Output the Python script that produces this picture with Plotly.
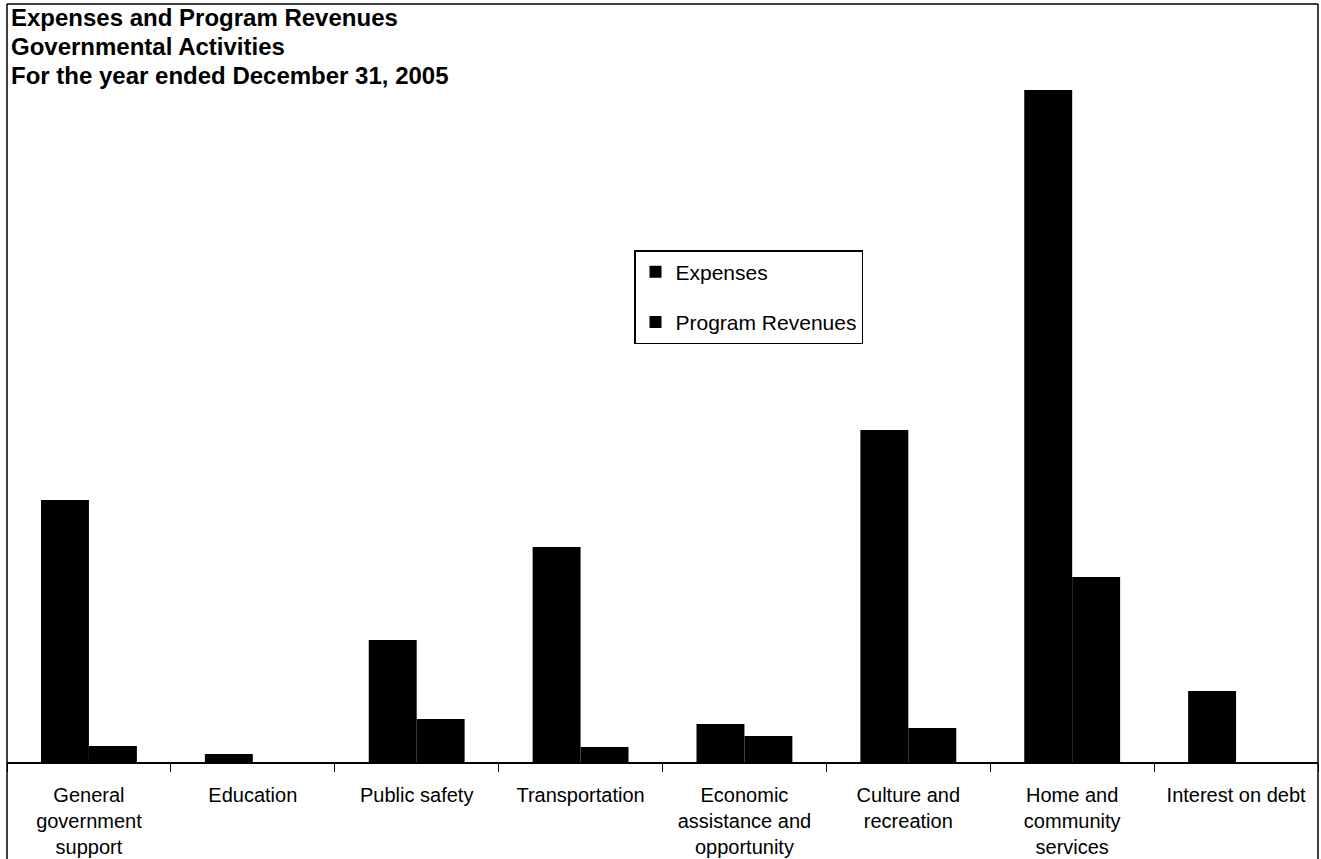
import plotly.graph_objects as go

# Governmental activities, year ended December 31, 2005
categories = [
    "General<br>government<br>support",
    "Education",
    "Public safety",
    "Transportation",
    "Economic<br>assistance and<br>opportunity",
    "Culture and<br>recreation",
    "Home and<br>community<br>services",
    "Interest on debt",
]
expenses = [26.2, 0.8, 12.2, 21.5, 3.8, 33.2, 67.2, 7.1]
program_revenues = [1.6, 0.0, 4.3, 1.5, 2.6, 3.4, 18.5, 0.0]

title_lines = [
    "Expenses and Program Revenues",
    "Governmental Activities",
    "For the year ended December 31, 2005",
]

FONT = "Liberation Sans, Arial, sans-serif"
W, H = 1321, 859
M_L, M_R, M_T, M_B = 7, 3, 4, 97
plot_h = H - M_T - M_B
plot_w = W - M_L - M_R

fig = go.Figure()
fig.add_trace(go.Bar(
    name="Expenses", x=categories, y=expenses,
    marker=dict(color="#000000", line=dict(width=0)),
    legendgroup="a",
))
fig.add_trace(go.Bar(
    name="Program Revenues", x=categories, y=program_revenues,
    marker=dict(color="#000000", line=dict(width=0)),
    legendgroup="b",
))

# chart frame (top, left and right edges run to the page bottom)
y_bottom = -M_B / plot_h
frame = dict(type="line", xref="paper", yref="paper",
             line=dict(color="#000000", width=1.5), layer="above")
fig.add_shape(x0=0, x1=1, y0=1, y1=1, **frame)
fig.add_shape(x0=0, x1=0, y0=1, y1=y_bottom, **frame)
fig.add_shape(x0=1, x1=1, y0=1, y1=y_bottom, **frame)

for i, line in enumerate(title_lines):
    fig.add_annotation(
        text=f"<b>{line}</b>", xref="paper", yref="paper",
        x=2 / plot_w, y=1 - (-2 + i * 29) / plot_h,
        xanchor="left", yanchor="top", showarrow=False,
        font=dict(family=FONT, size=24, color="#000000"),
    )

fig.update_layout(
    width=W, height=H,
    margin=dict(l=M_L, r=M_R, t=M_T, b=M_B, pad=0, autoexpand=False),
    paper_bgcolor="#ffffff", plot_bgcolor="#ffffff",
    barmode="group", bargap=0.415, bargroupgap=0,
    font=dict(family=FONT, size=20, color="#000000"),
    showlegend=True,
    legend=dict(
        x=(634 - M_L) / plot_w, y=(H - M_B - 250) / plot_h,
        xanchor="left", yanchor="top",
        bgcolor="#ffffff", bordercolor="#000000", borderwidth=1.5,
        font=dict(family=FONT, size=21, color="#000000"),
        tracegroupgap=20, traceorder="grouped",
    ),
    xaxis=dict(
        showline=True, linecolor="#000000", linewidth=1.5,
        ticks="outside", tickson="boundaries", ticklen=8,
        tickcolor="#000000", tickwidth=1,
        showgrid=False, zeroline=False, automargin=False,
        tickfont=dict(family=FONT, size=20, color="#000000"),
        tickangle=0, fixedrange=True, ticklabelstandoff=14,
    ),
    yaxis=dict(
        range=[0, plot_h / 10], showticklabels=False, showgrid=False,
        zeroline=False, showline=False, ticks="", fixedrange=True,
        automargin=False,
    ),
)

fig.write_html("out.html")
